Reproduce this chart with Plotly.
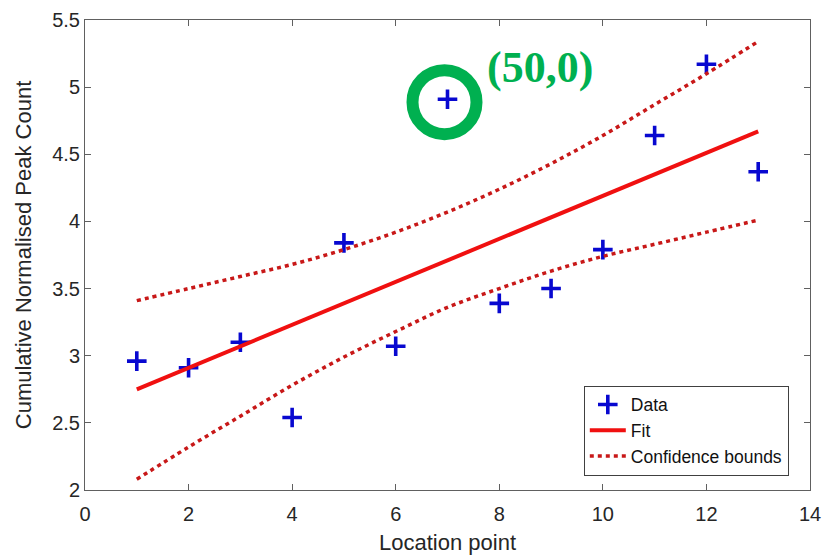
import plotly.graph_objects as go

# Data
location = [1, 2, 3, 4, 5, 6, 7, 8, 9, 10, 11, 12, 13]
peak_count = [2.96, 2.91, 3.10, 2.54, 3.84, 3.07, 4.91, 3.39, 3.50, 3.79, 4.64, 5.17, 4.37]
fit_values = [2.75, 2.91, 3.07, 3.23, 3.39, 3.55, 3.71, 3.87, 4.03, 4.19, 4.35, 4.51, 4.67]
upper_bound = [3.41, 3.50, 3.59, 3.68, 3.79, 3.92, 4.07, 4.24, 4.43, 4.64, 4.87, 5.10, 5.34]
lower_bound = [2.08, 2.32, 2.55, 2.78, 2.99, 3.18, 3.36, 3.50, 3.63, 3.74, 3.83, 3.92, 4.01]
x_ticks = [0, 2, 4, 6, 8, 10, 12, 14]
y_ticks = [2, 2.5, 3, 3.5, 4, 4.5, 5, 5.5]
y_tick_labels = ["2", "2.5", "3", "3.5", "4", "4.5", "5", "5.5"]
highlight_x, highlight_y = 7, 4.91
highlight_label = "(50,0)"

FONT = "Liberation Sans, Arial, sans-serif"

fig = go.Figure()
fig.add_trace(go.Scatter(
    x=location, y=peak_count, mode="markers", name="Data",
    marker=dict(symbol="cross-thin", size=14, line=dict(width=3.6, color="#0808d0"), color="#0808d0"),
))
fig.add_trace(go.Scatter(
    x=location, y=fit_values, mode="lines", name="Fit",
    line=dict(color="#f01010", width=4),
))
fig.add_trace(go.Scatter(
    x=location, y=upper_bound, mode="lines", name="Confidence bounds",
    line=dict(color="#c81818", width=3.5, dash="4px,4px", shape="spline"),
))
fig.add_trace(go.Scatter(
    x=location, y=lower_bound, mode="lines", name="Confidence bounds",
    line=dict(color="#c81818", width=3.5, dash="4px,4px", shape="spline"), showlegend=False,
))

fig.add_shape(
    type="circle", xref="x", yref="y", xsizemode="pixel", ysizemode="pixel",
    xanchor=highlight_x, yanchor=highlight_y, x0=-35, x1=29, y0=-35, y1=29,
    line=dict(color="#00b050", width=12),
)
fig.add_annotation(
    x=8.78, y=5.15, xref="x", yref="y", text="<b>" + highlight_label + "</b>", showarrow=False,
    font=dict(family="Liberation Serif, Times New Roman, serif", size=44, color="#00b050"),
)

axis_common = dict(
    showline=True, linecolor="#606060", linewidth=1, mirror="ticks",
    ticks="inside", ticklen=6, tickcolor="#606060", showgrid=False, zeroline=False,
    automargin=False,
    tickfont=dict(family=FONT, size=20, color="#262626"),
    title_font=dict(family=FONT, size=22, color="#262626"),
)
fig.update_xaxes(range=[0, 14], tickvals=x_ticks, title_text="Location point",
                 title_standoff=10, ticklabelstandoff=6, **axis_common)
fig.update_yaxes(range=[2, 5.5], tickvals=y_ticks, ticktext=y_tick_labels,
                 title_text="Cumulative Normalised Peak Count", title_standoff=14, **axis_common)

fig.update_layout(
    width=828, height=560,
    margin=dict(l=85, r=18, t=20, b=70, autoexpand=False),
    plot_bgcolor="white", paper_bgcolor="white",
    showlegend=True,
    legend=dict(
        x=0.688, y=0.222, xanchor="left", yanchor="top",
        bgcolor="white", bordercolor="#404040", borderwidth=1,
        font=dict(family=FONT, size=17.5, color="#111111"),
        tracegroupgap=0, itemwidth=36,
    ),
)

fig.write_html("out.html", config={"displayModeBar": False},
               post_script="document.body.style.margin='0px';")
